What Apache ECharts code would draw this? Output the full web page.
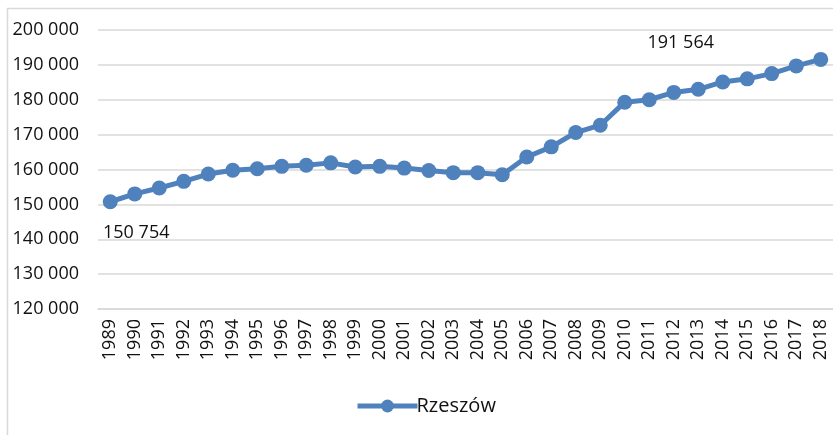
<!DOCTYPE html>
<html>
<head>
<meta charset="utf-8">
<script src="https://cdn.jsdelivr.net/npm/echarts@6/dist/echarts.min.js"></script>
<style>
html,body{margin:0;padding:0;background:#fff;}
#chart{width:833px;height:435px;}
</style>
</head>
<body>
<div id="chart"></div>
<script>
var years = ['1989','1990','1991','1992','1993','1994','1995','1996','1997','1998','1999','2000','2001','2002','2003','2004','2005','2006','2007','2008','2009','2010','2011','2012','2013','2014','2015','2016','2017','2018'];
var rzeszow = [150754,153000,154700,156600,158700,159800,160200,160900,161200,161900,160700,160900,160400,159700,159100,159100,158500,163600,166500,170600,172700,179300,180000,182100,183000,185100,186000,187500,189700,191564];
var yMin = 120000, yMax = 200000, yStep = 10000;
var seriesName = 'Rzeszów';

function fmt(v){ return String(v).replace(/\B(?=(\d{3})+(?!\d))/g, ' '); }

var FONT = 'Open Sans';
var TXT = '#111111';
var BLUE = '#4f81bd';

var data = rzeszow.map(function(v, i){
  var item = { value: v };
  if (i === 0) {
    item.label = { show: true, position: 'inside', offset: [26, 31] };
  } else if (i === rzeszow.length - 1) {
    item.label = { show: true, position: 'inside', offset: [-140, -17] };
  }
  return item;
});

var chart = echarts.init(document.getElementById('chart'), null, {renderer:'canvas'});
chart.setOption({
  animation: false,
  backgroundColor: '#fff',
  graphic: [{
    type: 'rect', left: 5, top: 6, silent: true, z: -10,
    shape: { width: 860, height: 460 },
    style: { fill: 'none', stroke: '#d9d9d9', lineWidth: 1.5 }
  }],
  grid: { left: 98, right: -4, top: 30, bottom: 126, containLabel: false },
  legend: {
    left: 350, top: 391,
    itemWidth: 60, itemHeight: 16, itemGap: 10,
    lineStyle: { width: 5, color: BLUE },
    itemStyle: { color: BLUE },
    textStyle: { fontFamily: FONT, fontSize: 20, color: TXT, padding: [0,0,0,-6] },
    data: [seriesName]
  },
  xAxis: {
    type: 'category', data: years, boundaryGap: true,
    axisLine: { show: true, lineStyle: { color: '#d9d9d9', width: 1.5 } },
    axisTick: { show: false },
    axisLabel: { rotate: 90, interval: 0, margin: 10, fontFamily: FONT, fontSize: 18, color: TXT }
  },
  yAxis: {
    type: 'value', min: yMin, max: yMax, interval: yStep,
    axisLine: { show: false }, axisTick: { show: false },
    splitLine: { lineStyle: { color: '#d9d9d9', width: 1.5 } },
    axisLabel: { margin: 19, fontFamily: FONT, fontSize: 18, color: TXT, formatter: fmt }
  },
  series: [{
    name: seriesName, type: 'line', data: data,
    symbol: 'circle', symbolSize: 15,
    lineStyle: { color: BLUE, width: 5 },
    itemStyle: { color: BLUE },
    label: { show: false, fontFamily: FONT, fontSize: 18, color: TXT, formatter: function(p){ return fmt(p.value); } }
  }]
});
</script>
</body>
</html>
